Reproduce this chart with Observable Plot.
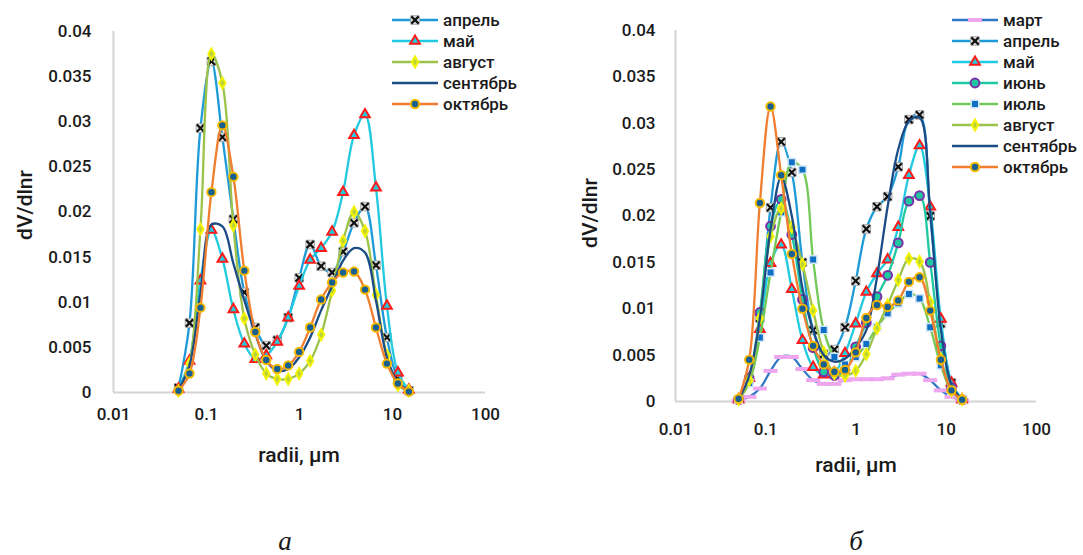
<!DOCTYPE html>
<html><head><meta charset="utf-8">
<script src="https://cdn.jsdelivr.net/npm/d3@7"></script>
<script src="https://cdn.jsdelivr.net/npm/@observablehq/plot@0.6"></script>
<style>
body{margin:0;background:#fff;}
#wrap{position:relative;width:1083px;height:555px;overflow:hidden;font-family:Roboto,"Noto Sans",sans-serif;color:#1a1a1a;}
.panel{position:absolute;top:0;}
.legend{position:absolute;font-size:17px;font-weight:500;}
.legend .row{display:flex;align-items:center;height:21px;white-space:nowrap;}
.legend svg{margin-right:5px;}
.title{position:absolute;font-size:21px;font-weight:500;white-space:nowrap;}
.caption{position:absolute;font-family:"Liberation Serif","DejaVu Serif",serif;font-style:italic;font-size:27px;transform:translate(-50%,-50%);}
</style></head><body><div id="wrap"></div><script>
// ---- data ----
const radii = [0.05,0.065604,0.086077,0.112939,0.148184,0.194429,0.255105,0.334716,0.439173,0.576227,0.756052,0.991996,1.301571,1.707757,2.240702,2.939966,3.857452,5.06126,6.640745,8.713145,11.432287,15.0];

const aprA = [0.0005,0.0077,0.0293,0.0367,0.0283,0.0192,0.0111,0.0072,0.0052,0.0058,0.0083,0.0127,0.0164,0.0140,0.0133,0.0156,0.0188,0.0206,0.0141,0.0061,0.0015,0.0002];
const mayA = [0.0004,0.0035,0.0124,0.0180,0.0148,0.0092,0.0054,0.0037,0.0041,0.0056,0.0083,0.0118,0.0147,0.0160,0.0178,0.0222,0.0285,0.0308,0.0227,0.0096,0.0022,0.0003];
const augA = [0.0002,0.0032,0.0181,0.0375,0.0343,0.0185,0.0082,0.0042,0.0021,0.0015,0.0015,0.0021,0.0035,0.0064,0.0113,0.0168,0.0200,0.0179,0.0108,0.0041,0.0008,0.0002];
const sepA = [0.0003,0.0030,0.0110,0.0186,0.0184,0.0143,0.0102,0.0065,0.0035,0.0024,0.0026,0.0039,0.0061,0.0091,0.0118,0.0146,0.0160,0.0155,0.0102,0.0039,0.0011,0.0002];
const octA = [0.0002,0.0021,0.0094,0.0222,0.0296,0.0239,0.0135,0.0067,0.0036,0.0026,0.0030,0.0045,0.0072,0.0103,0.0122,0.0133,0.0134,0.0114,0.0072,0.0032,0.0010,0.0001];

const marB = [0.0001,0.0005,0.0014,0.0033,0.0048,0.0048,0.0035,0.0023,0.0019,0.0019,0.0023,0.0024,0.0024,0.0024,0.0025,0.0029,0.0030,0.0030,0.0023,0.0012,0.0005,0.0001];
const aprB = [0.0002,0.0024,0.0090,0.0209,0.0280,0.0247,0.0150,0.0077,0.0051,0.0056,0.0080,0.0130,0.0186,0.0210,0.0221,0.0253,0.0304,0.0309,0.0200,0.0084,0.0020,0.0002];
const mayB = [0.0002,0.0025,0.0078,0.0149,0.0169,0.0121,0.0066,0.0037,0.0029,0.0031,0.0052,0.0084,0.0118,0.0138,0.0153,0.0188,0.0244,0.0276,0.0210,0.0089,0.0020,0.0002];
const junB = [0.0002,0.0025,0.0096,0.0189,0.0218,0.0180,0.0110,0.0058,0.0032,0.0028,0.0034,0.0059,0.0085,0.0113,0.0136,0.0171,0.0216,0.0222,0.0150,0.0060,0.0015,0.0002];
const julB = [0.0002,0.0020,0.0069,0.0139,0.0204,0.0258,0.0250,0.0153,0.0077,0.0048,0.0040,0.0048,0.0062,0.0080,0.0095,0.0106,0.0116,0.0111,0.0080,0.0039,0.0011,0.0002];
const augB = [0.0002,0.0023,0.0090,0.0178,0.0208,0.0188,0.0148,0.0098,0.0053,0.0030,0.0028,0.0033,0.0051,0.0079,0.0104,0.0131,0.0154,0.0151,0.0107,0.0046,0.0012,0.0002];
const sepB = [0.0002,0.0028,0.0090,0.0185,0.0242,0.0200,0.0122,0.0077,0.0050,0.0043,0.0046,0.0058,0.0077,0.0134,0.0210,0.0272,0.0302,0.0306,0.0205,0.0078,0.0018,0.0002];
const octB = [0.0003,0.0045,0.0214,0.0318,0.0244,0.0159,0.0100,0.0060,0.0040,0.0032,0.0034,0.0053,0.0090,0.0104,0.0102,0.0109,0.0129,0.0134,0.0098,0.0045,0.0012,0.0002];

const xTicks = [0.01, 0.1, 1, 10, 100];
const xTickLabels = ["0.01", "0.1", "1", "10", "100"];
const yTicks = [0, 0.005, 0.01, 0.015, 0.02, 0.025, 0.03, 0.035, 0.04];
const yTickLabels = ["0", "0.005", "0.01", "0.015", "0.02", "0.025", "0.03", "0.035", "0.04"];

const seriesA = [["апрель", aprA], ["май", mayA], ["август", augA], ["сентябрь", sepA], ["октябрь", octA]];
const seriesB = [["март", marB], ["апрель", aprB], ["май", mayB], ["июнь", junB], ["июль", julB], ["август", augB], ["сентябрь", sepB], ["октябрь", octB]];

// ---- styles ----
const dashSymbol = {draw(ctx) { ctx.rect(-7, -2, 14, 4); }};
const style = {
  "март":     {color: "#2f78c6", marks: [{symbol: dashSymbol, r: 4, fill: "#eea6ee", stroke: "none", sw: 0}]},
  "апрель":   {color: "#1f9ad8", marks: [{symbol: "square", r: 4.8, fill: "#e6e6e6", stroke: "#a8a8a8", sw: 1}, {symbol: "times", r: 3.4, fill: "none", stroke: "#111", sw: 2.2}]},
  "май":      {color: "#22cadf", marks: [{symbol: "triangle", r: 3.6, fill: "#22cadf", stroke: "#ff1a1a", sw: 2}]},
  "июнь":     {color: "#1fc8a0", marks: [{symbol: "circle", r: 4.4, fill: "#1fc8a0", stroke: "#7b2fa8", sw: 2}]},
  "июль":     {color: "#72c957", marks: [{symbol: "square", r: 4.2, fill: "#0f6fc6", stroke: "#cfe6f8", sw: 1.5}]},
  "август":   {color: "#9cc24a", marks: [{symbol: "diamond", r: 3.3, fill: "#b8d23a", stroke: "#f4f400", sw: 2}]},
  "сентябрь": {color: "#1b4c86", marks: []},
  "октябрь":  {color: "#f07e2e", marks: [{symbol: "circle", r: 4.2, fill: "#17608f", stroke: "#f6b800", sw: 2}]}
};

const wrap = document.getElementById("wrap");

function makePanel(series, opt) {
  const marks = [
    Plot.ruleX([0.01], {stroke: "#d4d4d4", strokeWidth: 2}),
    Plot.ruleY([0], {stroke: "#d4d4d4", strokeWidth: 2}),
    Plot.axisX({ticks: xTicks, tickFormat: d => xTickLabels[xTicks.indexOf(d)], tickSize: 0, tickPadding: opt.xPad, label: null, fontSize: 17, fontWeight: 500}),
    Plot.axisY({ticks: yTicks, tickFormat: d => yTickLabels[yTicks.indexOf(d)], tickSize: 0, tickPadding: opt.yPad, label: null, fontSize: 17, fontWeight: 500})
  ];
  for (const [name, vals] of series) {
    const st = style[name];
    const data = radii.map((r, i) => ({r, v: vals[i]}));
    marks.push(Plot.line(data, {x: "r", y: "v", curve: "catmull-rom", stroke: st.color, strokeWidth: 2.3}));
    for (const m of st.marks) {
      marks.push(Plot.dot(data, {x: "r", y: "v", symbol: m.symbol, r: m.r, fill: m.fill, stroke: m.stroke, strokeWidth: m.sw}));
    }
  }
  const svg = Plot.plot({
    width: opt.width, height: 480,
    marginLeft: opt.ml, marginRight: opt.mr, marginTop: opt.mt, marginBottom: opt.mb,
    style: {fontFamily: "Roboto, 'Noto Sans', sans-serif", color: "#1a1a1a", background: "transparent", overflow: "visible"},
    x: {type: "log", domain: [0.01, 100]},
    y: {domain: [0, 0.04]},
    marks
  });
  svg.classList.add("panel");
  svg.style.left = opt.left + "px";
  wrap.appendChild(svg);
}

makePanel(seriesA, {left: 0, width: 560, ml: 113, mr: 75, mt: 31, mb: 88, xPad: 15, yPad: 22});
makePanel(seriesB, {left: 560, width: 523, ml: 115, mr: 47, mt: 30, mb: 79, xPad: 21, yPad: 20});

// ---- legends ----
function sampleSVG(name) {
  const st = style[name];
  let s = `<svg width="46" height="14" viewBox="0 0 46 14" style="overflow:visible"><line x1="0" x2="46" y1="7" y2="7" stroke="${st.color}" stroke-width="2.5"/>`;
  const map = {square: d3.symbolSquare, times: d3.symbolTimes, triangle: d3.symbolTriangle, circle: d3.symbolCircle, diamond: d3.symbolDiamond};
  for (const m of st.marks) {
    const type = typeof m.symbol === "string" ? map[m.symbol] : m.symbol;
    const p = d3.symbol().type(type).size(Math.PI * m.r * m.r)();
    s += `<path transform="translate(23,7)" d="${p}" fill="${m.fill}" stroke="${m.stroke}" stroke-width="${m.sw}"/>`;
  }
  return s + "</svg>";
}
function makeLegend(series, left, top) {
  const div = document.createElement("div");
  div.className = "legend";
  div.style.left = left + "px";
  div.style.top = top + "px";
  div.innerHTML = series.map(([name]) => `<div class="row">${sampleSVG(name)}<span>${name}</span></div>`).join("");
  wrap.appendChild(div);
}
makeLegend(seriesA, 392, 9.5);
makeLegend(seriesB, 952, 9.5);

// ---- titles ----
function title(text, x, y, rot, cls) {
  const d = document.createElement("div");
  d.className = cls || "title";
  d.textContent = text;
  d.style.left = x + "px";
  d.style.top = y + "px";
  if (!cls) d.style.transform = "translate(-50%,-50%)" + (rot ? " rotate(-90deg)" : "");
  wrap.appendChild(d);
}
title("dV/dlnr", 25, 205, true);
title("dV/dlnr", 590, 213, true);
title("radii, µm", 299, 455, false);
title("radii, µm", 856, 465, false);
title("а", 285, 541, false, "caption");
title("б", 856, 541, false, "caption");
</script></body></html>
